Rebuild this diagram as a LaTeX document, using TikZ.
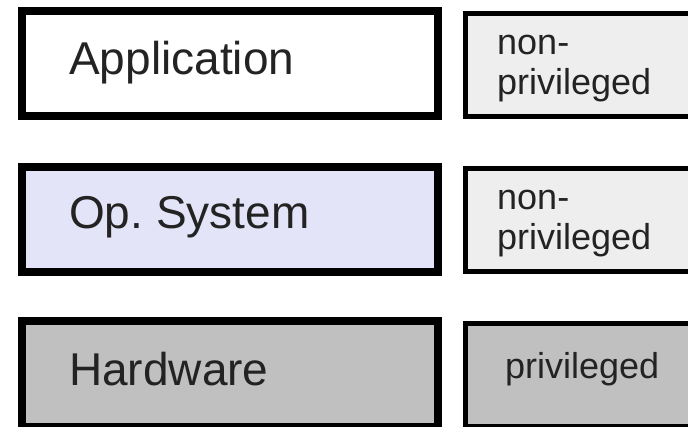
\documentclass[tikz,border=0pt]{standalone}
\usepackage{fontspec}
\setmainfont{Liberation Sans}
\frenchspacing
\definecolor{lavfill}{RGB}{228,228,248}
\definecolor{hwgray}{RGB}{192,192,192}
\definecolor{lightfill}{RGB}{238,238,238}
\definecolor{txtcol}{RGB}{35,35,35}
\begin{document}
\begin{tikzpicture}[x=1pt,y=-1pt,
  layerbox/.style={draw=black, line width=8pt, rectangle, anchor=north west,
    inner sep=0pt, outer sep=0pt, minimum width=416pt, minimum height=105pt},
  modebox/.style={draw=black, line width=5pt, rectangle, anchor=north west,
    inner sep=0pt, outer sep=0pt, minimum width=240pt, minimum height=103pt},
  bigtext/.style={anchor=base west, inner sep=0pt, text=txtcol,
    font=\fontsize{46pt}{52pt}\selectfont},
  smalltext/.style={anchor=base west, inner sep=0pt, text=txtcol,
    font=\fontsize{36pt}{42pt}\selectfont}]
\clip (0,0) rectangle (688,427);
\fill[white] (0,0) rectangle (688,427);
% left column
\node[layerbox, fill=white]    (app) at (22,11.5) {};
\node[layerbox, fill=lavfill]  (os)  at (22,167) {};
\node[layerbox, fill=hwgray]   (hw)  at (22,321.5) {};
\node[bigtext] (apptxt) at (69,75) {Application};
\node[bigtext] (ostxt)  at (69,229) {Op.\ System};
\node[bigtext] (hwtxt)  at (69,385) {Hardware};
% right column
\node[modebox, fill=lightfill] (m1) at (465.5,13.5) {};
\node[modebox, fill=lightfill] (m2) at (465.5,168.5) {};
\node[modebox, fill=hwgray]    (m3) at (465.5,323.5) {};
\node[smalltext] (m1a) at (497,55) {non-};
\node[smalltext] (m1b) at (497,95) {privileged};
\node[smalltext] (m2a) at (497,210) {non-};
\node[smalltext] (m2b) at (497,250) {privileged};
\node[smalltext] (m3a) at (505,378) {privileged};
\end{tikzpicture}
\end{document}
